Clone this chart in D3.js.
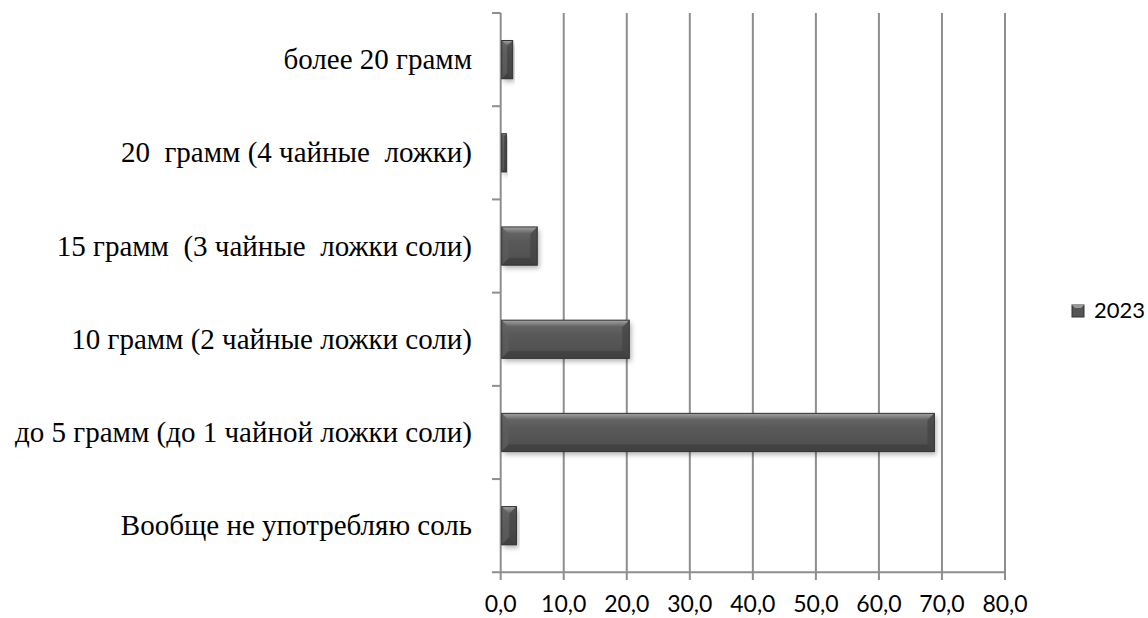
<!DOCTYPE html>
<html><head><meta charset="utf-8">
<script src="https://cdn.jsdelivr.net/npm/d3@7"></script>
<style>body{margin:0;background:#fff}svg{display:block}
.cat{font-family:"Liberation Serif","Times New Roman",serif;white-space:pre}
.num{font-family:Lato,"Open Sans",sans-serif}</style>
</head><body>
<svg id="c" width="1148" height="618"></svg>
<script>
const categories = ["более 20 грамм","20  грамм (4 чайные  ложки)","15 грамм  (3 чайные  ложки соли)","10 грамм (2 чайные ложки соли)","до 5 грамм (до 1 чайной ложки соли)","Вообще не употребляю соль"];
const values2023 = [1.9, 0.9, 5.8, 20.4, 68.8, 2.5];
const xTicks = [0,10,20,30,40,50,60,70,80];
const seriesName = "2023";

const svg = d3.select("#c");
const defs = svg.append("defs");
const g1 = defs.append("linearGradient").attr("id","body").attr("x1",0).attr("y1",0).attr("x2",0).attr("y2",1);
g1.append("stop").attr("offset","0").attr("stop-color","#6e6e6e");
g1.append("stop").attr("offset","0.35").attr("stop-color","#5a5a5a");
g1.append("stop").attr("offset","1").attr("stop-color","#4c4c4c");
const g2 = defs.append("linearGradient").attr("id","topbev").attr("x1",0).attr("y1",0).attr("x2",0).attr("y2",1);
g2.append("stop").attr("offset","0").attr("stop-color","#a4a4a4");
g2.append("stop").attr("offset","1").attr("stop-color","#5e5e5e");
const f = defs.append("filter").attr("id","sh").attr("x","-10%").attr("y","-20%").attr("width","130%").attr("height","160%");
f.append("feDropShadow").attr("dx",2).attr("dy",3).attr("stdDeviation",2.5).attr("flood-color","#000").attr("flood-opacity",0.3);

const x = d3.scaleLinear().domain([0,80]).range([500.7,1005]);
const y = d3.scaleBand().domain(categories).range([13,572.3]).paddingInner(0.59).paddingOuter(0.295);
const yTicksBand = d3.scaleBand().domain(categories).range([13,572.3]);

// gridlines
svg.append("g").selectAll("line").data(xTicks).join("line")
  .attr("x1",d=>x(d)).attr("x2",d=>x(d)).attr("y1",13).attr("y2",580)
  .attr("stroke","#8e8e8e").attr("stroke-width",2);
// bottom axis
svg.append("line").attr("x1",492).attr("x2",x(80)).attr("y1",572.3).attr("y2",572.3).attr("stroke","#8e8e8e").attr("stroke-width",2);
// left ticks
svg.append("g").selectAll("line").data(categories).join("line")
  .attr("x1",492).attr("x2",x(0)).attr("y1",d=>yTicksBand(d)).attr("y2",d=>yTicksBand(d))
  .attr("stroke","#8e8e8e").attr("stroke-width",2);

// bars
const bh = y.bandwidth();
const bars = svg.append("g").selectAll("g").data(categories).join("g")
  .attr("transform",d=>`translate(${x(0)+1},${y(d)})`);
bars.each(function(d,i){
  const w = x(values2023[i]) - x(0) - 1;
  const s = d3.select(this);
  const b = Math.min(7, w/2);
  s.append("rect").attr("width",w).attr("height",bh).attr("fill","url(#body)").attr("filter","url(#sh)");
  s.append("path").attr("d",`M0,0L${w},0L${w-b},${b}L${b},${b}Z`).attr("fill","url(#topbev)");
  s.append("path").attr("d",`M0,0L${b},${b}L${b},${bh-b}L0,${bh}Z`).attr("fill","#5f5f5f").attr("opacity",0.6);
  s.append("path").attr("d",`M${w},0L${w-b},${b}L${w-b},${bh-b}L${w},${bh}Z`).attr("fill","#3f3f3f").attr("opacity",0.6);
  s.append("path").attr("d",`M0,${bh}L${b},${bh-b}L${w-b},${bh-b}L${w},${bh}Z`).attr("fill","#3e3e3e").attr("opacity",0.8);
  s.append("rect").attr("width",w).attr("height",bh).attr("fill","none").attr("stroke","#333").attr("stroke-width",1);
});

// x tick labels
svg.append("g").selectAll("text").data(xTicks).join("text").attr("class","num")
  .attr("x",d=>x(d)).attr("y",612).attr("text-anchor","middle")
  .attr("font-size",23).attr("fill","#000")
  .text(d=>d.toFixed(1).replace(".",","));

// category labels
svg.append("g").selectAll("text").data(categories).join("text").attr("class","cat")
  .attr("x",472).attr("y",d=>yTicksBand(d)+yTicksBand.bandwidth()/2).attr("dy","0.33em")
  .attr("text-anchor","end")
  .attr("font-size",29).attr("fill","#000")
  .text(d=>d);

// legend
const lg = svg.append("g").attr("transform","translate(1072,305)");
lg.append("rect").attr("width",12).attr("height",12).attr("fill","#555").attr("stroke","#333");
lg.append("path").attr("d","M0,0L12,0L9,3L3,3Z").attr("fill","#999");
lg.append("text").attr("class","num").attr("x",73).attr("y",13).attr("text-anchor","end").attr("font-size",22).text(seriesName);
</script>
</body></html>
